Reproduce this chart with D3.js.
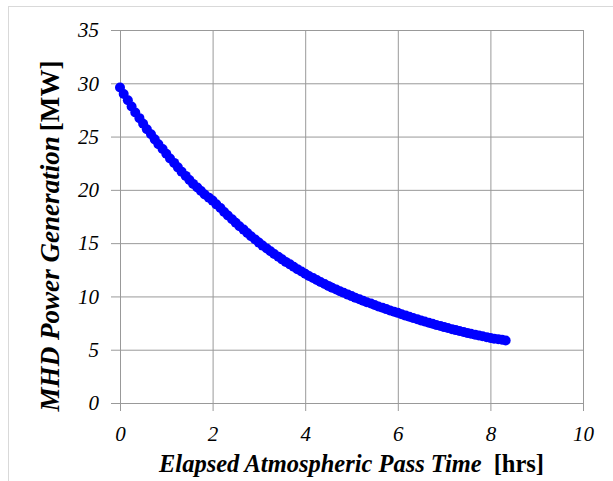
<!DOCTYPE html>
<html>
<head>
<meta charset="utf-8">
<script src="https://cdn.jsdelivr.net/npm/d3@7"></script>
<style>
  body { margin: 0; background: #fff; }
  svg text { font-family: "Liberation Serif", "Times New Roman", serif; }
</style>
</head>
<body>
<div id="chart"></div>
<script>
// elapsed time [hrs] (one marker every ~5 min)
const timeHrs = [
  0, 0.08, 0.17, 0.25, 0.33, 0.42, 0.5, 0.58, 0.67, 0.75, 0.83, 0.92,
  1, 1.08, 1.17, 1.25, 1.33, 1.42, 1.5, 1.58, 1.67, 1.75, 1.83, 1.92,
  2, 2.08, 2.17, 2.25, 2.33, 2.42, 2.5, 2.58, 2.67, 2.75, 2.83, 2.92,
  3, 3.08, 3.17, 3.25, 3.33, 3.42, 3.5, 3.58, 3.67, 3.75, 3.83, 3.92,
  4, 4.08, 4.17, 4.25, 4.33, 4.42, 4.5, 4.58, 4.67, 4.75, 4.83, 4.92,
  5, 5.08, 5.17, 5.25, 5.33, 5.42, 5.5, 5.58, 5.67, 5.75, 5.83, 5.92,
  6, 6.08, 6.17, 6.25, 6.33, 6.42, 6.5, 6.58, 6.67, 6.75, 6.83, 6.92,
  7, 7.08, 7.17, 7.25, 7.33, 7.42, 7.5, 7.58, 7.67, 7.75, 7.83, 7.92,
  8, 8.08, 8.17, 8.25, 8.33
];
// MHD power [MW]
const powerMW = [
  29.6, 29.0, 28.41, 27.83, 27.26, 26.73, 26.2, 25.69, 25.21, 24.74, 24.28, 23.83,
  23.39, 22.95, 22.53, 22.11, 21.71, 21.31, 20.92, 20.56, 20.22, 19.89, 19.57, 19.27,
  18.99, 18.64, 18.29, 17.93, 17.59, 17.25, 16.92, 16.59, 16.27, 15.95, 15.65, 15.34,
  15.05, 14.77, 14.5, 14.24, 13.98, 13.72, 13.48, 13.24, 13.01, 12.78, 12.56, 12.34,
  12.13, 11.92, 11.73, 11.54, 11.35, 11.16, 10.99, 10.81, 10.65, 10.49, 10.34, 10.17,
  10.03, 9.88, 9.74, 9.6, 9.46, 9.33, 9.19, 9.06, 8.94, 8.81, 8.69, 8.57,
  8.46, 8.33, 8.2, 8.09, 7.97, 7.86, 7.74, 7.64, 7.53, 7.43, 7.32, 7.22,
  7.12, 7.03, 6.93, 6.84, 6.76, 6.66, 6.58, 6.5, 6.41, 6.34, 6.26, 6.18,
  6.1, 6.04, 5.98, 5.93, 5.87
];
const xTicks = [0, 2, 4, 6, 8, 10];
const yTicks = [0, 5, 10, 15, 20, 25, 30, 35];

const width = 613, height = 481;
const plot = { left: 120, right: 583, top: 30, bottom: 403 };

const svg = d3.select("#chart").append("svg")
  .attr("width", width)
  .attr("height", height)
  .style("display", "block");

// outer chart frame (only top/left edges show in the crop)
svg.append("rect")
  .attr("x", 8.5).attr("y", 6.5)
  .attr("width", 700).attr("height", 700)
  .attr("fill", "none")
  .attr("stroke", "#d9d9d9");

const x = d3.scaleLinear().domain([0, 10]).range([plot.left, plot.right]);
const y = d3.scaleLinear().domain([0, 35]).range([plot.bottom, plot.top]);

// y axis: gridlines running across, tick stubs sticking out to the left
const yAxis = svg.append("g")
  .attr("transform", `translate(${plot.left},0)`)
  .call(d3.axisLeft(y).tickValues(yTicks)
    .tickSizeInner(-(plot.right - plot.left))
    .tickSizeOuter(0));
yAxis.attr("font-family", null).attr("font-size", null);
yAxis.select(".domain").remove();
yAxis.selectAll(".tick line")
  .attr("x1", -9)
  .attr("stroke", "#999");
yAxis.selectAll(".tick text")
  .attr("x", -21)
  .style("font-style", "italic")
  .style("font-size", "21px")
  .attr("fill", "#000");

const xAxis = svg.append("g")
  .attr("transform", `translate(0,${plot.bottom})`)
  .call(d3.axisBottom(x).tickValues(xTicks)
    .tickSizeInner(-(plot.bottom - plot.top))
    .tickSizeOuter(0));
xAxis.attr("font-family", null).attr("font-size", null);
xAxis.select(".domain").remove();
xAxis.selectAll(".tick line")
  .attr("y1", 8)
  .attr("stroke", "#999");
xAxis.selectAll(".tick text")
  .attr("y", 38)
  .attr("dy", 0)
  .style("font-style", "italic")
  .style("font-size", "21px")
  .attr("fill", "#000");

// data markers
svg.append("g")
  .selectAll("circle")
  .data(timeHrs.map((t, i) => ({ t: t, p: powerMW[i] })))
  .join("circle")
  .attr("cx", d => x(d.t))
  .attr("cy", d => y(d.p))
  .attr("r", 5)
  .attr("fill", "#0000ff");

// axis titles, sized so they span the same length as in the original
function fitTitle(sel, target) {
  const len = sel.node().getComputedTextLength();
  sel.style("font-size", (21 * target / len).toFixed(2) + "px");
}

const xt = svg.append("text")
  .attr("x", (plot.left + plot.right) / 2)
  .attr("y", 472)
  .attr("text-anchor", "middle")
  .style("font-size", "21px")
  .style("font-weight", "bold");
xt.append("tspan").style("font-style", "italic").text("Elapsed Atmospheric Pass Time");
xt.append("tspan").attr("dx", 12).text("[hrs]");
fitTitle(xt, 373);

const yt = svg.append("text")
  .attr("transform", "translate(59,236) rotate(-90)")
  .attr("text-anchor", "middle")
  .style("font-size", "21px")
  .style("font-weight", "bold");
yt.append("tspan").style("font-style", "italic").text("MHD Power Generation");
yt.append("tspan").attr("dx", 5).text("[MW]");
fitTitle(yt, 346);
</script>
</body>
</html>
